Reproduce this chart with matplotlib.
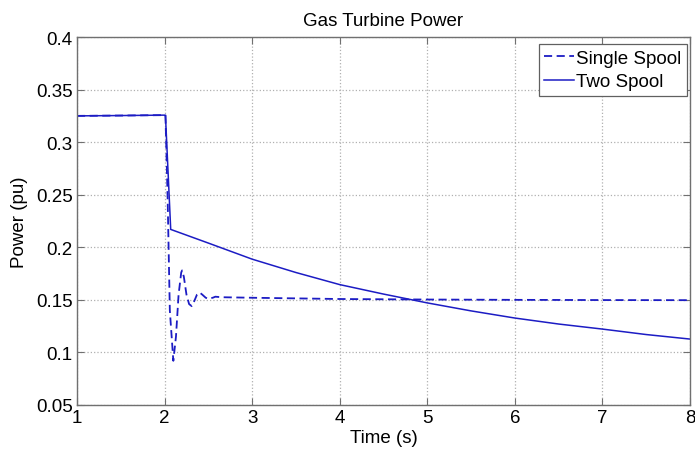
import matplotlib
matplotlib.use("Agg")
import matplotlib.pyplot as plt

plt.rcParams['font.family'] = ['Liberation Sans', 'DejaVu Sans']

# Single spool (dashed)
single_t = [1.0, 1.5, 2.0, 2.01, 2.035, 2.06, 2.10, 2.13, 2.16, 2.19, 2.20, 2.22, 2.25,
            2.28, 2.31, 2.34, 2.37, 2.40, 2.43, 2.47, 2.50, 2.55, 2.58, 2.65,
            3.0, 4.0, 5.0, 6.0, 7.0, 8.0]
single_p = [0.325, 0.3253, 0.3257, 0.3255, 0.246, 0.140, 0.092, 0.115, 0.155, 0.176, 0.178,
            0.172, 0.155, 0.146, 0.144, 0.149, 0.155, 0.157, 0.155, 0.152, 0.151,
            0.152, 0.153, 0.1525, 0.152, 0.1508, 0.1503, 0.1500, 0.1498, 0.1497]

# Two spool (solid)
two_t = [1.0, 1.5, 2.0, 2.01, 2.07, 2.5, 3.0, 3.5, 4.0, 4.5, 5.0, 5.5, 6.0, 6.5, 7.0, 7.5, 8.0]
two_p = [0.325, 0.3253, 0.3257, 0.3255, 0.217, 0.204, 0.1887, 0.176, 0.1645, 0.1555,
         0.1471, 0.1395, 0.1327, 0.127, 0.1222, 0.117, 0.1127]

x_ticks = [1, 2, 3, 4, 5, 6, 7, 8]
y_ticks = [0.05, 0.1, 0.15, 0.2, 0.25, 0.3, 0.35, 0.4]
y_ticklabels = ['0.05', '0.1', '0.15', '0.2', '0.25', '0.3', '0.35', '0.4']

fig = plt.figure(figsize=(6.95, 4.52), dpi=100)
ax = fig.add_axes([0.1108, 0.1018, 0.8820, 0.8141])

color = '#1c1cc4'
ax.plot(single_t, single_p, linestyle='--', color=color, linewidth=1.3,
        dashes=(4.5, 2.5), label='Single Spool')
ax.plot(two_t, two_p, linestyle='-', color=color, linewidth=1.1, label='Two Spool')

ax.set_xlim(1, 8)
ax.set_ylim(0.05, 0.4)
ax.set_xticks(x_ticks)
ax.set_xticklabels([str(v) for v in x_ticks])
ax.set_yticks(y_ticks)
ax.set_yticklabels(y_ticklabels)

ax.grid(True, linestyle=':', color='#b0b0b0', linewidth=0.9)
ax.tick_params(direction='in', top=True, right=True, labelsize=13.5,
               length=5, color='#707070', pad=3)
for s in ax.spines.values():
    s.set_color('#707070')
    s.set_linewidth(1.0)

ax.set_title('Gas Turbine Power', fontsize=13.5, pad=9)
ax.set_xlabel('Time (s)', fontsize=13.5, labelpad=2)
ax.set_ylabel('Power (pu)', fontsize=13.5, labelpad=6)

leg = ax.legend(loc='upper right', fontsize=13.5, handlelength=1.6, handletextpad=0.1,
                borderpad=0.3, labelspacing=0.35, fancybox=False, framealpha=1,
                borderaxespad=0.0, bbox_to_anchor=(0.995, 0.981))
leg.get_frame().set_edgecolor('#606060')
leg.get_frame().set_linewidth(0.9)

fig.savefig('out.png', dpi=100)
